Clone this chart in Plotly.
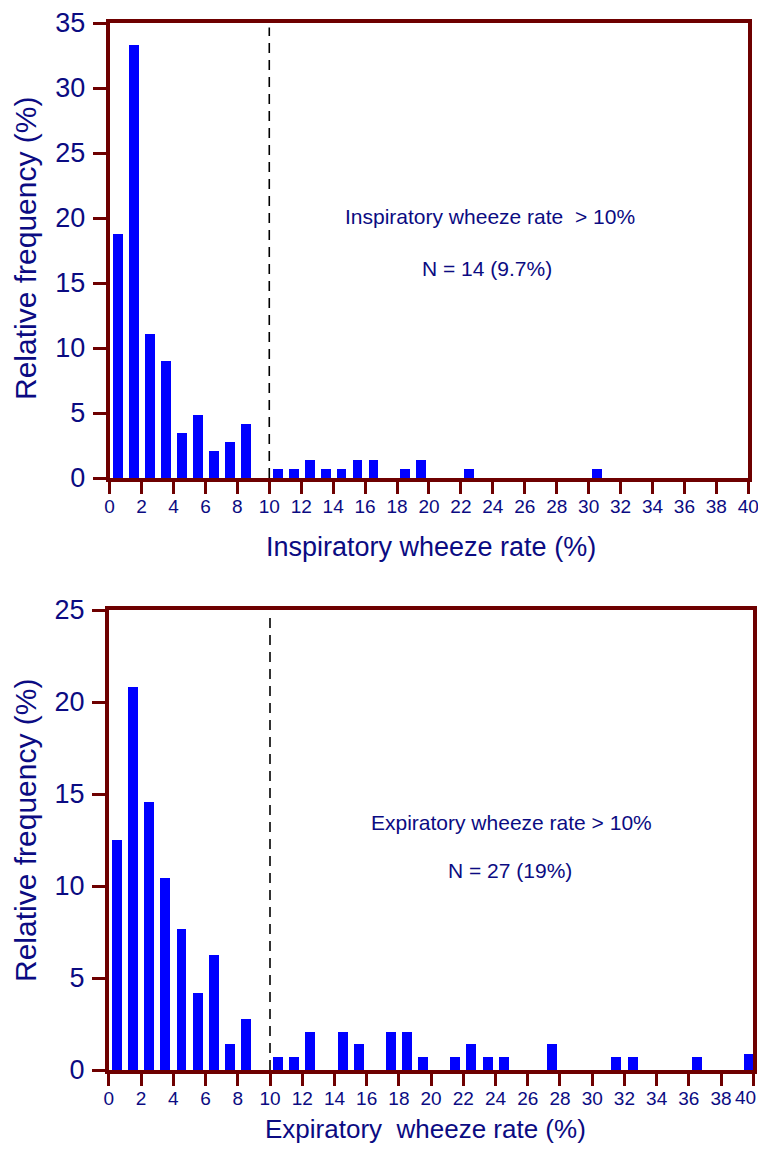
import plotly.graph_objects as go

# ---------------- data ----------------
insp_x = [0.5, 1.5, 2.5, 3.5, 4.5, 5.5, 6.5, 7.5, 8.5,
          10.5, 11.5, 12.5, 13.5, 14.5, 15.5, 16.5, 18.5, 19.5, 22.5, 30.5]
insp_y = [18.75, 33.33, 11.11, 9.03, 3.47, 4.86, 2.08, 2.78, 4.17,
          0.69, 0.69, 1.39, 0.69, 0.69, 1.39, 1.39, 0.69, 1.39, 0.69, 0.69]

exp_x = [0.5, 1.5, 2.5, 3.5, 4.5, 5.5, 6.5, 7.5, 8.5,
         10.5, 11.5, 12.5, 14.5, 15.5, 17.5, 18.5, 19.5, 21.5, 22.5, 23.5, 24.5,
         27.5, 31.5, 32.5, 36.5, 39.72]
exp_y = [12.5, 20.83, 14.58, 10.42, 7.64, 4.17, 6.25, 1.39, 2.78,
         0.69, 0.69, 2.08, 2.08, 1.39, 2.08, 2.08, 0.69, 0.69, 1.39, 0.69, 0.69,
         1.39, 0.69, 0.69, 0.69, 0.87]

x_ticks = list(range(0, 41, 2))
x_tick_labels = [str(v) for v in x_ticks]
insp_yticks = [0, 5, 10, 15, 20, 25, 30, 35]
exp_yticks = [0, 5, 10, 15, 20, 25]

top_text = ["Inspiratory wheeze rate  > 10%", "N = 14 (9.7%)"]
bot_text = ["Expiratory wheeze rate > 10%", "N = 27 (19%)"]
x_titles = ["Inspiratory wheeze rate (%)", "Expiratory  wheeze rate (%)"]
y_title = "Relative frequency (%)"

# ---------------- style ----------------
PAGE_W, PAGE_H = 766, 1153
OFF = 8  # default body margin of the html page
W, H = PAGE_W - 2 * OFF, PAGE_H - 2 * OFF
NAVY = "#0b0b82"
FRAME = "#6e0000"
BAR = "#0000ff"
FONT = "Liberation Sans, Arial, sans-serif"


def px_x(p):
    return (p - OFF) / W


def px_y(p):
    return 1 - (p - OFF) / H


fig = go.Figure()
fig.add_trace(go.Bar(x=insp_x, y=insp_y, width=0.62, marker=dict(color=BAR, line=dict(width=0)),
                     xaxis="x", yaxis="y", showlegend=False))
fig.add_trace(go.Bar(x=exp_x, y=exp_y, width=0.62, marker=dict(color=BAR, line=dict(width=0)),
                     xaxis="x2", yaxis="y2", showlegend=False))

common_x = dict(range=[0, 40], tickvals=x_ticks, ticks="outside", ticklen=12, tickwidth=3,
                tickcolor=FRAME, showline=True, linecolor=FRAME, linewidth=4, mirror=True,
                showgrid=False, zeroline=False, tickfont=dict(family=FONT, size=19, color=NAVY),
                ticklabelstandoff=-4, ticklabeloverflow="allow", fixedrange=True, automargin=False)
common_y = dict(ticks="outside", ticklen=13, tickwidth=3, tickcolor=FRAME, showline=True,
                linecolor=FRAME, linewidth=4, mirror=True, showgrid=False, zeroline=False,
                tickfont=dict(family=FONT, size=27, color=NAVY), ticklabelstandoff=2,
                fixedrange=True, automargin=False)

# bottom axis: last label is drawn separately so it is not cut at the page edge
bottom_labels = x_tick_labels[:-1] + [""]

fig.update_layout(
    width=W, height=H,
    template="none",
    margin=dict(l=0, r=0, t=0, b=0, autoexpand=False),
    paper_bgcolor="white", plot_bgcolor="white",
    bargap=0,
    xaxis=dict(domain=[px_x(109.6), px_x(748.3)], anchor="y", ticktext=x_tick_labels, **common_x),
    yaxis=dict(domain=[px_y(478), px_y(23)], anchor="x", range=[0, 35], tickvals=insp_yticks, **common_y),
    xaxis2=dict(domain=[px_x(108.9), px_x(753.3)], anchor="y2", ticktext=bottom_labels, **common_x),
    yaxis2=dict(domain=[px_y(1070), px_y(610)], anchor="x2", range=[0, 25], tickvals=exp_yticks, **common_y),
)

# dashed threshold lines
for xr, yr in [("x", "y domain"), ("x2", "y2 domain")]:
    fig.add_shape(type="line", xref=xr, yref=yr, x0=10, x1=10, y0=0, y1=0.99,
                  line=dict(color="black", width=1.6, dash="10px,7px"), layer="above")

ann = []
# in-plot text
for txt, cx, cy in [(top_text[0], 489.5, 216), (top_text[1], 487, 268),
                    (bot_text[0], 511, 822), (bot_text[1], 510, 870)]:
    ann.append(dict(text=txt, x=px_x(cx), y=px_y(cy), xref="paper", yref="paper",
                    showarrow=False, xanchor="center", yanchor="middle",
                    font=dict(family=FONT, size=21, color=NAVY)))
# last tick label of the bottom axis, kept inside the page
ann.append(dict(text=x_tick_labels[-1], x=px_x(757.5), y=px_y(1097), xref="paper", yref="paper",
                showarrow=False, xanchor="right", yanchor="middle", xshift=0,
                font=dict(family=FONT, size=19, color=NAVY)))
# axis titles
for txt, cx, cy, fs in [(x_titles[0], 431, 547, 27), (x_titles[1], 425, 1129, 26)]:
    ann.append(dict(text=txt, x=px_x(cx), y=px_y(cy), xref="paper", yref="paper",
                    showarrow=False, xanchor="center", yanchor="middle",
                    font=dict(family=FONT, size=fs, color=NAVY)))
for cy in [249, 831]:
    ann.append(dict(text=y_title, x=px_x(25), y=px_y(cy), xref="paper", yref="paper",
                    showarrow=False, xanchor="center", yanchor="middle", textangle=-90,
                    font=dict(family=FONT, size=30, color=NAVY)))
fig.update_layout(annotations=ann)

fig.write_html("out.html")
